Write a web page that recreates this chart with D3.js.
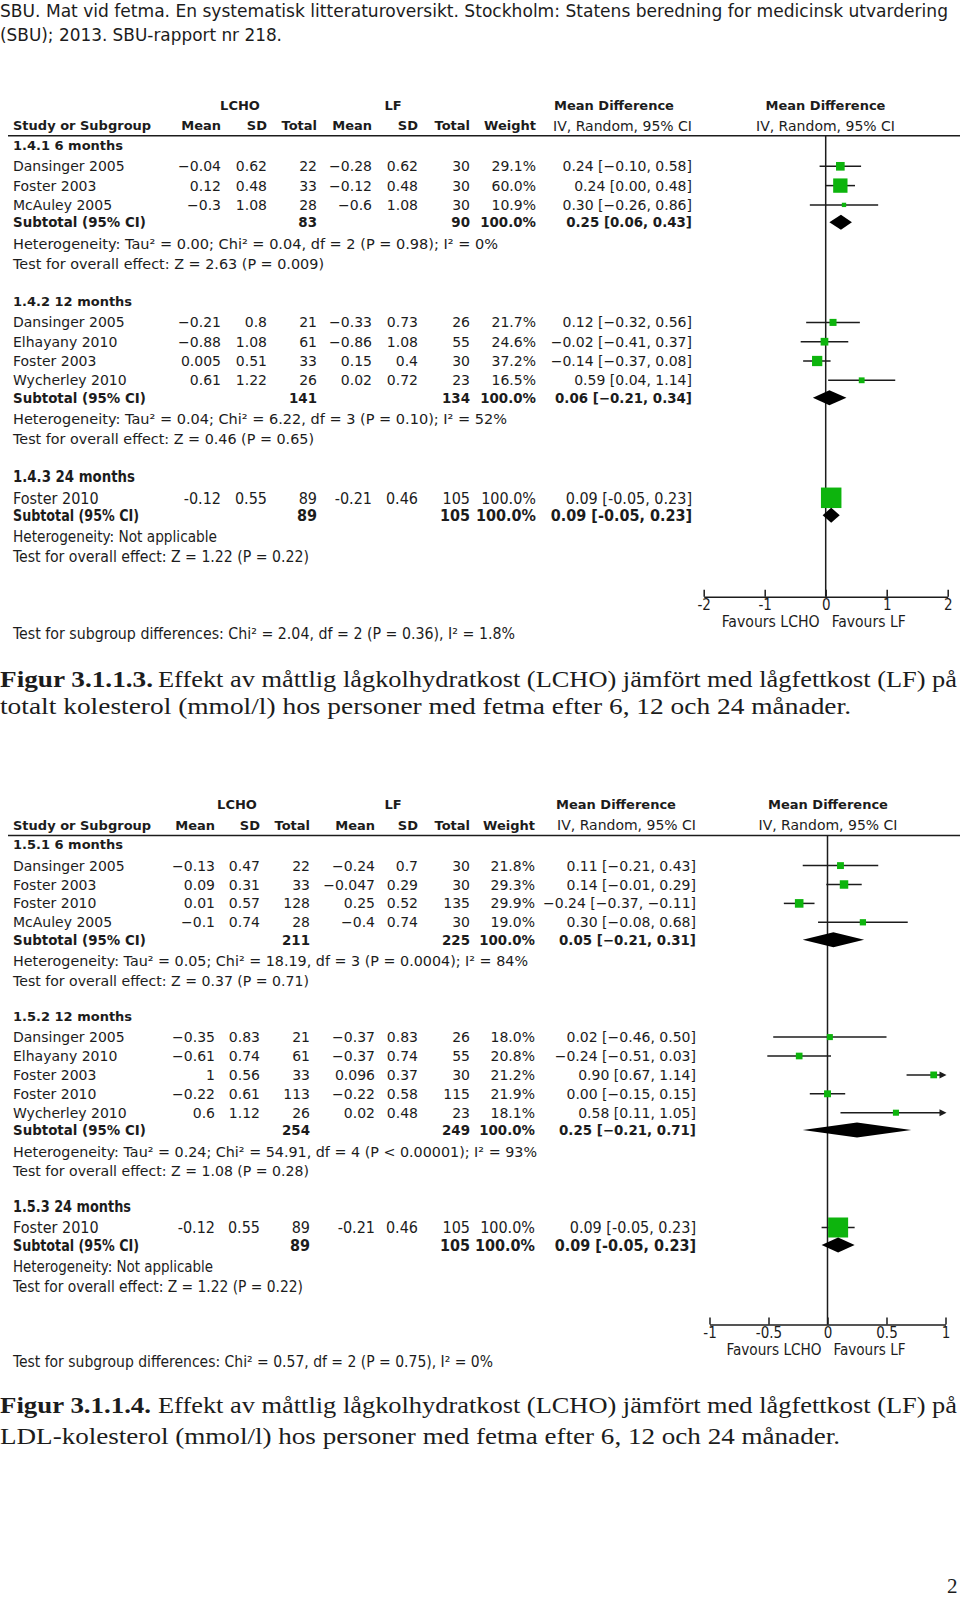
<!DOCTYPE html>
<html><head><meta charset="utf-8">
<script src="https://cdn.jsdelivr.net/npm/d3@7"></script>
<style>body{margin:0;background:#fff} svg{display:block}</style>
</head><body>
<svg id="page" width="960" height="1599"></svg>
<script>
// ===== Page texts =====
const pageHeader = ["SBU. Mat vid fetma. En systematisk litteraturoversikt. Stockholm: Statens beredning for medicinsk utvardering",
                    "(SBU); 2013. SBU-rapport nr 218."];
const pageNumber = "2";

// ===== Figure 3.1.1.3 (total cholesterol) =====
const f1Groups   = ["1.4.1 6 months", "1.4.2 12 months", "1.4.3 24 months"];
const f1Study    = ["Dansinger 2005","Foster 2003","McAuley 2005","Dansinger 2005","Elhayany 2010","Foster 2003","Wycherley 2010","Foster 2010"];
const f1Group    = [0,0,0,1,1,1,1,2];
const f1LchoMean = [-0.04, 0.12, -0.3, -0.21, -0.88, 0.005, 0.61, -0.12];
const f1LchoSD   = [0.62, 0.48, 1.08, 0.8, 1.08, 0.51, 1.22, 0.55];
const f1LchoN    = [22, 33, 28, 21, 61, 33, 26, 89];
const f1LfMean   = [-0.28, -0.12, -0.6, -0.33, -0.86, 0.15, 0.02, -0.21];
const f1LfSD     = [0.62, 0.48, 1.08, 0.73, 1.08, 0.4, 0.72, 0.46];
const f1LfN      = [30, 30, 30, 26, 55, 30, 23, 105];
const f1Weight   = [29.1, 60.0, 10.9, 21.7, 24.6, 37.2, 16.5, 100.0];
const f1MD       = [0.24, 0.24, 0.30, 0.12, -0.02, -0.14, 0.59, 0.09];
const f1Lo       = [-0.10, 0.00, -0.26, -0.32, -0.41, -0.37, 0.04, -0.05];
const f1Hi       = [0.58, 0.48, 0.86, 0.56, 0.37, 0.08, 1.14, 0.23];
const f1SubLchoN = [83, 141, 89];
const f1SubLfN   = [90, 134, 105];
const f1SubMD    = [0.25, 0.06, 0.09];
const f1SubLo    = [0.06, -0.21, -0.05];
const f1SubHi    = [0.43, 0.34, 0.23];
const f1Het      = ["Heterogeneity: Tau² = 0.00; Chi² = 0.04, df = 2 (P = 0.98); I² = 0%",
                    "Heterogeneity: Tau² = 0.04; Chi² = 6.22, df = 3 (P = 0.10); I² = 52%",
                    "Heterogeneity: Not applicable"];
const f1Overall  = ["Test for overall effect: Z = 2.63 (P = 0.009)",
                    "Test for overall effect: Z = 0.46 (P = 0.65)",
                    "Test for overall effect: Z = 1.22 (P = 0.22)"];
const f1Domain   = [-2, 2];
const f1Ticks    = [-2, -1, 0, 1, 2];
const f1Subgroup = "Test for subgroup differences: Chi² = 2.04, df = 2 (P = 0.36), I² = 1.8%";
const f1CaptionBold = "Figur 3.1.1.3.";
const f1Caption  = ["Effekt av måttlig lågkolhydratkost (LCHO) jämfört med lågfettkost (LF) på",
                    "totalt kolesterol (mmol/l) hos personer med fetma efter 6, 12 och 24 månader."];

// ===== Figure 3.1.1.4 (LDL cholesterol) =====
const f2Groups   = ["1.5.1 6 months", "1.5.2 12 months", "1.5.3 24 months"];
const f2Study    = ["Dansinger 2005","Foster 2003","Foster 2010","McAuley 2005","Dansinger 2005","Elhayany 2010","Foster 2003","Foster 2010","Wycherley 2010","Foster 2010"];
const f2Group    = [0,0,0,0,1,1,1,1,1,2];
const f2LchoMean = [-0.13, 0.09, 0.01, -0.1, -0.35, -0.61, 1, -0.22, 0.6, -0.12];
const f2LchoSD   = [0.47, 0.31, 0.57, 0.74, 0.83, 0.74, 0.56, 0.61, 1.12, 0.55];
const f2LchoN    = [22, 33, 128, 28, 21, 61, 33, 113, 26, 89];
const f2LfMean   = [-0.24, -0.047, 0.25, -0.4, -0.37, -0.37, 0.096, -0.22, 0.02, -0.21];
const f2LfSD     = [0.7, 0.29, 0.52, 0.74, 0.83, 0.74, 0.37, 0.58, 0.48, 0.46];
const f2LfN      = [30, 30, 135, 30, 26, 55, 30, 115, 23, 105];
const f2Weight   = [21.8, 29.3, 29.9, 19.0, 18.0, 20.8, 21.2, 21.9, 18.1, 100.0];
const f2MD       = [0.11, 0.14, -0.24, 0.30, 0.02, -0.24, 0.90, 0.00, 0.58, 0.09];
const f2Lo       = [-0.21, -0.01, -0.37, -0.08, -0.46, -0.51, 0.67, -0.15, 0.11, -0.05];
const f2Hi       = [0.43, 0.29, -0.11, 0.68, 0.50, 0.03, 1.14, 0.15, 1.05, 0.23];
const f2SubLchoN = [211, 254, 89];
const f2SubLfN   = [225, 249, 105];
const f2SubMD    = [0.05, 0.25, 0.09];
const f2SubLo    = [-0.21, -0.21, -0.05];
const f2SubHi    = [0.31, 0.71, 0.23];
const f2Het      = ["Heterogeneity: Tau² = 0.05; Chi² = 18.19, df = 3 (P = 0.0004); I² = 84%",
                    "Heterogeneity: Tau² = 0.24; Chi² = 54.91, df = 4 (P < 0.00001); I² = 93%",
                    "Heterogeneity: Not applicable"];
const f2Overall  = ["Test for overall effect: Z = 0.37 (P = 0.71)",
                    "Test for overall effect: Z = 1.08 (P = 0.28)",
                    "Test for overall effect: Z = 1.22 (P = 0.22)"];
const f2Domain   = [-1, 1];
const f2Ticks    = [-1, -0.5, 0, 0.5, 1];
const f2Subgroup = "Test for subgroup differences: Chi² = 0.57, df = 2 (P = 0.75), I² = 0%";
const f2CaptionBold = "Figur 3.1.1.4.";
const f2Caption  = ["Effekt av måttlig lågkolhydratkost (LCHO) jämfört med lågfettkost (LF) på",
                    "LDL-kolesterol (mmol/l) hos personer med fetma efter 6, 12 och 24 månader."];

// ===== Drawing =====
const svg = d3.select("#page");
const FONT = "'DejaVu Sans', Verdana, sans-serif";
const NARROW = "'Liberation Sans Narrow','DejaVu Sans Condensed','Arial Narrow',sans-serif";
const SERIF = "'Liberation Serif','DejaVu Serif',serif";
const INK = "#1c1c1c";
const GREEN = "#0db40d";

function txt(parent, s, x, y, o = {}) {
  const t = parent.append("text")
    .attr("x", x).attr("y", y).attr("dy", o.dy !== undefined ? o.dy : "0.36em")
    .attr("font-family", o.family || FONT)
    .attr("font-size", o.size || 14)
    .attr("font-weight", o.bold ? "bold" : "normal")
    .attr("text-anchor", o.anchor || "start")
    .attr("fill", o.fill || INK)
    .text(s);
  if (o.len) t.attr("textLength", o.len).attr("lengthAdjust", "spacingAndGlyphs");
  return t;
}
const rev = v => String(v).replace("-", "\u2212");
const nar = v => String(v);
const fmt2 = v => v.toFixed(2);

// page header
txt(svg, pageHeader[0], 0, 16.5, {family: NARROW, size: 18, dy: 0, len: 948});
txt(svg, pageHeader[1], 0, 40.5, {family: NARROW, size: 18, dy: 0, len: 282});
txt(svg, pageNumber, 947, 1593, {family: SERIF, size: 21, dy: 0});

function drawForest(d, L) {
  const g = svg.append("g");
  const x = d3.scaleLinear().domain(d.domain).range(L.xRange);
  const box = d3.scalePow().exponent(0.7).domain([0, 100]).range([0, L.maxBox]);
  const C = L.cols;
  const nG = d.groups.length;

  // column headers
  txt(g, "LCHO", C.lcho, L.lineY - 30.7, {bold: true, size: 13, anchor: "middle"});
  txt(g, "LF", C.lf, L.lineY - 30.7, {bold: true, size: 13, anchor: "middle"});
  txt(g, "Mean Difference", C.mdHead, L.lineY - 30.7, {bold: true, size: 13, anchor: "middle"});
  txt(g, "Mean Difference", C.plotHead, L.lineY - 30.7, {bold: true, size: 13, anchor: "middle"});
  const hy = L.lineY - 10.2;
  txt(g, "Study or Subgroup", 13, hy, {bold: true, size: 13});
  [["Mean", C.meanL], ["SD", C.sdL], ["Total", C.totL], ["Mean", C.meanF], ["SD", C.sdF], ["Total", C.totF], ["Weight", C.weight]]
    .forEach(([s, cx]) => txt(g, s, cx, hy, {bold: true, size: 13, anchor: "end"}));
  txt(g, "IV, Random, 95% CI", C.ci, hy, {size: 14, anchor: "end"});
  txt(g, "IV, Random, 95% CI", C.plotHead, hy, {size: 14, anchor: "middle"});

  // rows
  let y = L.lineY + 9.2;
  const rowY = [], subY = [];
  d.groups.forEach((label, gi) => {
    const narrow = gi === nG - 1;
    const F = narrow ? {family: NARROW, size: 16} : {family: FONT, size: 14};
    const fmt = narrow ? nar : rev;
    txt(g, label, 13, y, Object.assign({bold: true}, F, narrow ? {len: L.narrowLen.group} : {size: 13}));
    y += L.firstStudy;
    const idx = d.study.map((s, i) => i).filter(i => d.group[i] === gi);
    idx.forEach((i, k) => {
      if (k > 0) y += L.step;
      rowY[i] = y;
      txt(g, d.study[i], 13, y, F);
      txt(g, fmt(d.lchoMean[i]), C.meanL, y, Object.assign({anchor: "end"}, F));
      txt(g, fmt(d.lchoSD[i]), C.sdL, y, Object.assign({anchor: "end"}, F));
      txt(g, fmt(d.lchoN[i]), C.totL, y, Object.assign({anchor: "end"}, F));
      txt(g, fmt(d.lfMean[i]), C.meanF, y, Object.assign({anchor: "end"}, F));
      txt(g, fmt(d.lfSD[i]), C.sdF, y, Object.assign({anchor: "end"}, F));
      txt(g, fmt(d.lfN[i]), C.totF, y, Object.assign({anchor: "end"}, F));
      txt(g, d.weight[i].toFixed(1) + "%", C.weight, y, Object.assign({anchor: "end"}, F));
      txt(g, fmt(fmt2(d.md[i])) + " [" + fmt(fmt2(d.lo[i])) + ", " + fmt(fmt2(d.hi[i])) + "]", C.ci, y, Object.assign({anchor: "end"}, F));
    });
    y += L.subGap;
    subY[gi] = y;
    const FB = Object.assign({}, F, {bold: true}, narrow ? {} : {size: 13.4});
    txt(g, "Subtotal (95% CI)", 13, y, Object.assign({}, FB, narrow ? {len: L.narrowLen.sub} : {}));
    txt(g, fmt(d.subLchoN[gi]), C.totL, y, Object.assign({anchor: "end"}, FB));
    txt(g, fmt(d.subLfN[gi]), C.totF, y, Object.assign({anchor: "end"}, FB));
    txt(g, "100.0%", C.weight, y, Object.assign({anchor: "end"}, FB));
    txt(g, fmt(fmt2(d.subMD[gi])) + " [" + fmt(fmt2(d.subLo[gi])) + ", " + fmt(fmt2(d.subHi[gi])) + "]", C.ci, y, Object.assign({anchor: "end"}, FB));
    y += L.hetGap;
    txt(g, d.het[gi], 13, y, Object.assign({}, F, {len: narrow ? L.narrowLen.het : L.hetLen[gi]}));
    y += L.testGap;
    txt(g, d.overall[gi], 13, y, Object.assign({}, F, {len: narrow ? L.narrowLen.test : L.testLen[gi]}));
    if (gi < nG - 1) y += L.groupGap;
  });
  const axisY = y + L.axisGap;

  // header rule & zero line
  g.append("line").attr("x1", 8).attr("x2", 960).attr("y1", L.lineY).attr("y2", L.lineY)
    .attr("stroke", INK).attr("stroke-width", 1.5);
  g.append("line").attr("x1", x(0)).attr("x2", x(0)).attr("y1", L.lineY).attr("y2", axisY)
    .attr("stroke", INK).attr("stroke-width", 1.5);

  // study whiskers & boxes
  const [xmin, xmax] = L.xRange;
  d.study.forEach((s, i) => {
    const yy = rowY[i];
    const over = d.hi[i] > d.domain[1];
    const a = Math.max(x(d.lo[i]), xmin), b = Math.min(x(d.hi[i]), xmax);
    g.append("line").attr("x1", a).attr("x2", over ? b - 2 : b)
      .attr("y1", yy).attr("y2", yy).attr("stroke", INK).attr("stroke-width", 1.5);
    if (over) {
      g.append("path").attr("d", `M${b - 6},${yy - 3.5}L${b + 1},${yy}L${b - 6},${yy + 3.5}Z`).attr("fill", INK);
    }
    const s2 = Math.max(box(d.weight[i]), 4);
    g.append("rect").attr("x", x(d.md[i]) - s2 / 2).attr("y", yy - s2 / 2)
      .attr("width", s2).attr("height", s2).attr("fill", GREEN);
  });
  // subtotal diamonds
  d.subMD.forEach((m, gi) => {
    const yy = subY[gi], h = L.diamond / 2;
    g.append("path")
      .attr("d", `M${x(d.subLo[gi])},${yy}L${x(m)},${yy - h}L${x(d.subHi[gi])},${yy}L${x(m)},${yy + h}Z`)
      .attr("fill", "#000");
  });

  // axis
  const ax = g.append("g").attr("transform", `translate(0,${axisY})`)
    .call(d3.axisBottom(x).tickValues(d.ticks).tickFormat(v => String(v)).tickSize(-7).tickSizeOuter(0).tickPadding(3));
  ax.select(".domain").attr("stroke", INK).attr("stroke-width", 1.5);
  ax.selectAll(".tick line").attr("stroke", INK).attr("stroke-width", 1.5);
  ax.selectAll(".tick text").attr("font-family", NARROW).attr("font-size", 15).attr("fill", INK);
  txt(g, "Favours LCHO", x(0) - 6, axisY + 24.5, {family: NARROW, size: 16, anchor: "end", len: L.narrowLen.favL});
  txt(g, "Favours LF", x(0) + 6, axisY + 24.5, {family: NARROW, size: 16, len: L.narrowLen.favR});
  txt(g, d.subgroup, 13, axisY + 36.7, {family: NARROW, size: 16, len: L.narrowLen.subgroup});

  // caption
  const cy = axisY + L.capGap;
  txt(svg, d.captionBold, 0, cy, {family: SERIF, size: 23, bold: true, dy: 0, len: L.capLen[0]});
  txt(svg, d.caption[0], 158, cy, {family: SERIF, size: 23, dy: 0, len: L.capLen[1]});
  txt(svg, d.caption[1], 0, cy + L.capStep, {family: SERIF, size: 23, dy: 0, len: L.capLen[2]});
}

drawForest({
  groups: f1Groups, study: f1Study, group: f1Group,
  lchoMean: f1LchoMean, lchoSD: f1LchoSD, lchoN: f1LchoN,
  lfMean: f1LfMean, lfSD: f1LfSD, lfN: f1LfN,
  weight: f1Weight, md: f1MD, lo: f1Lo, hi: f1Hi,
  subLchoN: f1SubLchoN, subLfN: f1SubLfN, subMD: f1SubMD, subLo: f1SubLo, subHi: f1SubHi,
  het: f1Het, overall: f1Overall, domain: f1Domain, ticks: f1Ticks, subgroup: f1Subgroup,
  captionBold: f1CaptionBold, caption: f1Caption
}, {
  lineY: 135.7, firstStudy: 21.4, step: 19.3, subGap: 17.4, hetGap: 21.4, testGap: 19.8,
  groupGap: 37.5, axisGap: 40.4, xRange: [703.7, 947.7], maxBox: 20.5, diamond: 15,
  cols: {lcho: 240, lf: 393, mdHead: 614, plotHead: 825.5, meanL: 221, sdL: 267, totL: 317,
         meanF: 372, sdF: 418, totF: 470, weight: 536, ci: 692},
  hetLen: [485, 494], testLen: [311, 301],
  narrowLen: {group: 122, sub: 126, het: 204, test: 296, favL: 98, favR: 74, subgroup: 502},
  capGap: 90.5, capStep: 26.5, capLen: [153, 799, 851]
});

drawForest({
  groups: f2Groups, study: f2Study, group: f2Group,
  lchoMean: f2LchoMean, lchoSD: f2LchoSD, lchoN: f2LchoN,
  lfMean: f2LfMean, lfSD: f2LfSD, lfN: f2LfN,
  weight: f2Weight, md: f2MD, lo: f2Lo, hi: f2Hi,
  subLchoN: f2SubLchoN, subLfN: f2SubLfN, subMD: f2SubMD, subLo: f2SubLo, subHi: f2SubHi,
  het: f2Het, overall: f2Overall, domain: f2Domain, ticks: f2Ticks, subgroup: f2Subgroup,
  captionBold: f2CaptionBold, caption: f2Caption
}, {
  lineY: 835.5, firstStudy: 20.9, step: 18.9, subGap: 17.4, hetGap: 21.4, testGap: 19.6,
  groupGap: 35.5, axisGap: 38.5, xRange: [709.5, 945.5], maxBox: 20, diamond: 15,
  cols: {lcho: 237, lf: 393, mdHead: 616, plotHead: 828, meanL: 215, sdL: 260, totL: 310,
         meanF: 375, sdF: 418, totF: 470, weight: 535, ci: 696},
  hetLen: [515, 524], testLen: [296, 296],
  narrowLen: {group: 118, sub: 126, het: 200, test: 290, favL: 95, favR: 72, subgroup: 480},
  capGap: 88.5, capStep: 30.8, capLen: [151, 799, 840]
});
</script>
</body></html>
